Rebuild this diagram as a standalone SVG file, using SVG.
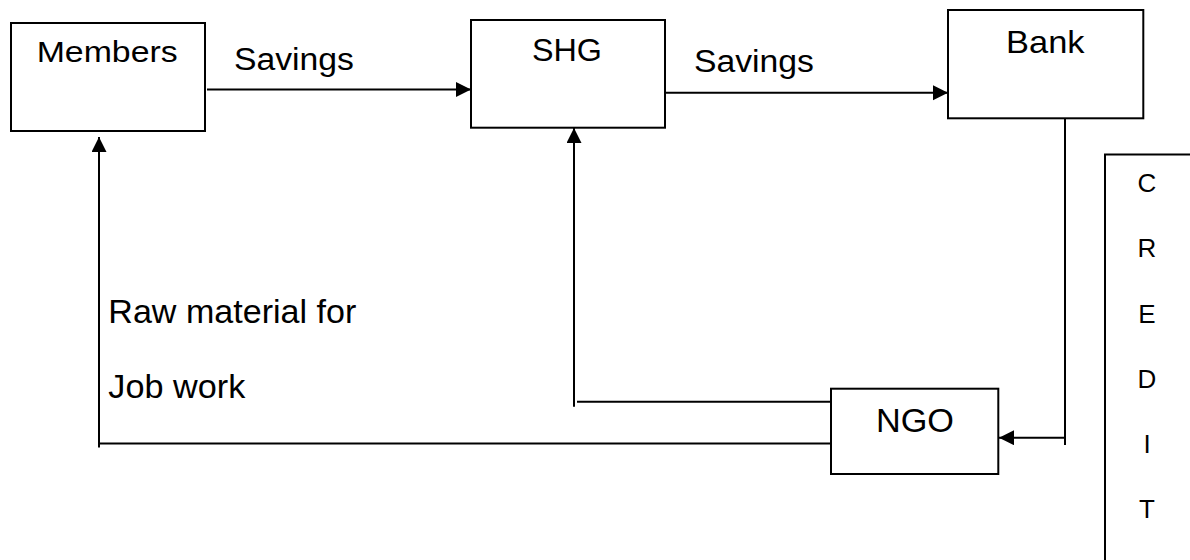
<svg xmlns="http://www.w3.org/2000/svg" width="1190" height="560" viewBox="0 0 1190 560">
<style>
  .box { fill: #ffffff; stroke: #000000; stroke-width: 2; }
  .ln { fill: none; stroke: #000000; stroke-width: 2; }
  .t { font-family: "Liberation Sans", Arial, sans-serif; fill: #000000; }
</style>
<defs>
  <marker id="ah" markerUnits="userSpaceOnUse" markerWidth="16" markerHeight="16" refX="15" refY="7.5" orient="auto">
    <path d="M0,0 L15,7.5 L0,15 Z" fill="#000000"/>
  </marker>
</defs>
<rect width="1190" height="560" fill="#ffffff"/>
<g id="connectors">
  <line class="ln" x1="207" y1="89.5" x2="471" y2="89.5" marker-end="url(#ah)"/>
  <line class="ln" x1="665" y1="92.7" x2="948" y2="92.7" marker-end="url(#ah)"/>
  <line class="ln" x1="1065" y1="118" x2="1065" y2="445"/>
  <line class="ln" x1="1065" y1="437.7" x2="999" y2="437.7" marker-end="url(#ah)"/>
  <line class="ln" x1="577" y1="401.7" x2="831" y2="401.7"/>
  <line class="ln" x1="574" y1="406.7" x2="574" y2="128" marker-end="url(#ah)"/>
  <line class="ln" x1="98" y1="443.5" x2="831" y2="443.5"/>
  <line class="ln" x1="99" y1="447.5" x2="99" y2="137" marker-end="url(#ah)"/>
  <text class="t" x="234" y="70" font-size="31" textLength="120" lengthAdjust="spacingAndGlyphs">Savings</text>
  <text class="t" x="694" y="72" font-size="31" textLength="120" lengthAdjust="spacingAndGlyphs">Savings</text>
  <text class="t" x="108.3" y="322.7" font-size="33" textLength="248" lengthAdjust="spacingAndGlyphs">Raw material for</text>
  <text class="t" x="108.3" y="397.7" font-size="33" textLength="137" lengthAdjust="spacingAndGlyphs">Job work</text>
</g>
<g id="members">
  <rect class="box" x="11" y="23" width="194" height="108"/>
  <text class="t" x="36.7" y="62" font-size="30" textLength="141" lengthAdjust="spacingAndGlyphs">Members</text>
</g>
<g id="shg">
  <rect class="box" x="471" y="20" width="194" height="107.7"/>
  <text class="t" x="532" y="61" font-size="31" textLength="70" lengthAdjust="spacingAndGlyphs">SHG</text>
</g>
<g id="bank">
  <rect class="box" x="948" y="10" width="195.3" height="108.3"/>
  <text class="t" x="1006" y="53.3" font-size="32" textLength="78.5" lengthAdjust="spacingAndGlyphs">Bank</text>
</g>
<g id="ngo">
  <rect class="box" x="831" y="388.7" width="167.3" height="85.3"/>
  <text class="t" x="876" y="432.3" font-size="34" textLength="78" lengthAdjust="spacingAndGlyphs">NGO</text>
</g>
<g id="credit">
  <path class="ln" d="M1105,562 L1105,154.5 L1192,154.5"/>
  <g class="t" font-size="26" text-anchor="middle">
    <text x="1147" y="191.7">C</text>
    <text x="1147" y="256.7">R</text>
    <text x="1147" y="322.7">E</text>
    <text x="1147" y="388">D</text>
    <text x="1147" y="453">I</text>
    <text x="1147" y="518">T</text>
  </g>
</g>
</svg>
